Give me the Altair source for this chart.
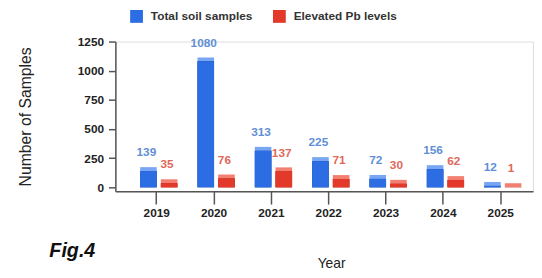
import altair as alt
import pandas as pd

years = ["2019", "2020", "2021", "2022", "2023", "2024", "2025"]
total = [139, 1080, 313, 225, 72, 156, 12]
elevated = [35, 76, 137, 71, 30, 62, 1]
series = ["Total soil samples", "Elevated Pb levels"]

rows = []
for yr, t, e in zip(years, total, elevated):
    rows.append({"year": yr, "series": series[0], "value": t})
    rows.append({"year": yr, "series": series[1], "value": e})
df = pd.DataFrame(rows)

FRONT = ["#2d6de3", "#e3392b"]
SIDE = ["#173f94", "#97221a"]
TOP = ["#78a6f2", "#f27f70"]
LABEL = ["#5f8fd4", "#e0685a"]

x = alt.X("year:N", sort=years,
          scale=alt.Scale(paddingInner=0.278, paddingOuter=0.2815, align=0.64),
          axis=alt.Axis(title="Year", labelAngle=0, labelFontSize=12, labelFontWeight="bold",
                        labelColor="#222", tickSize=13, tickColor="#555", domainColor="#555",
                        domainWidth=1.5, tickWidth=1.5, labelPadding=4,
                        titleFontSize=14, titleFontWeight="normal", titleColor="#222",
                        titleX=219, titleY=73, titleBaseline="middle"))
xo = alt.XOffset("series:N", sort=series, scale=alt.Scale(domain=series))
y = alt.Y("value:Q", stack=None,
          scale=alt.Scale(domain=[-34, 1250], nice=False, zero=False),
          axis=alt.Axis(title="Number of Samples", values=[0, 250, 500, 750, 1000, 1250],
                        format="d",
                        grid=False, labelFontSize=12, labelFontWeight="bold", labelColor="#222",
                        tickSize=7, tickColor="#555", domainColor="#555", domainWidth=1.5,
                        tickWidth=1.5, labelPadding=5,
                        titleFontSize=16, titleFontWeight="normal", titleColor="#222",
                        titleX=-91, titleY=76, titleBaseline="middle", titleAlign="center"))

base = alt.Chart(df)
is_total = alt.datum.series == series[0]

top = base.mark_bar(width=alt.RelativeBandSize(0.8), xOffset=4, yOffset=-4).encode(
    x=x, xOffset=xo, y=y,
    color=alt.when(is_total).then(alt.value(TOP[0])).otherwise(alt.value(TOP[1])))
side = base.mark_bar(width=alt.RelativeBandSize(0.8), xOffset=4).encode(
    x=x, xOffset=xo, y=y,
    color=alt.when(is_total).then(alt.value(SIDE[0])).otherwise(alt.value(SIDE[1])))
front = base.mark_bar(width=alt.RelativeBandSize(0.8)).encode(
    x=x, xOffset=xo, y=y,
    color=alt.Color("series:N", sort=series,
                    scale=alt.Scale(domain=series, range=FRONT),
                    legend=alt.Legend(title=None, orient="none", legendX=15, legendY=-32,
                                      direction="horizontal", symbolType="square",
                                      symbolSize=169, symbolStrokeWidth=0,
                                      labelFontSize=12, labelFontWeight="bold",
                                      labelColor="#333", labelOffset=8, columnPadding=20,
                                      padding=0)))

t1 = base.transform_filter(is_total).mark_text(
    dy=-19, fontSize=12, fontWeight="bold", color=LABEL[0], baseline="middle").encode(
    x=x, xOffset=xo, y=y, text="value:Q")
t2 = base.transform_filter(alt.datum.series == series[1]).mark_text(
    dy=-19, fontSize=12, fontWeight="bold", color=LABEL[1], baseline="middle").encode(
    x=x, xOffset=xo, y=y, text="value:Q")

chart = alt.layer(top, side, front, t1, t2).properties(
    width=424, height=152,
    padding={"left": 109, "top": 32, "right": 1, "bottom": 86},
    autosize="none",
    title=alt.TitleParams(text="Fig.4", orient="bottom", anchor="start", fontSize=20,
                          fontStyle="italic", fontWeight="bold", color="#111",
                          dx=-67, offset=-29, frame="group"),
).configure_view(stroke=None).configure(font="Liberation Sans")

chart.save("out.html", embed_options={"renderer": "svg", "actions": False})
